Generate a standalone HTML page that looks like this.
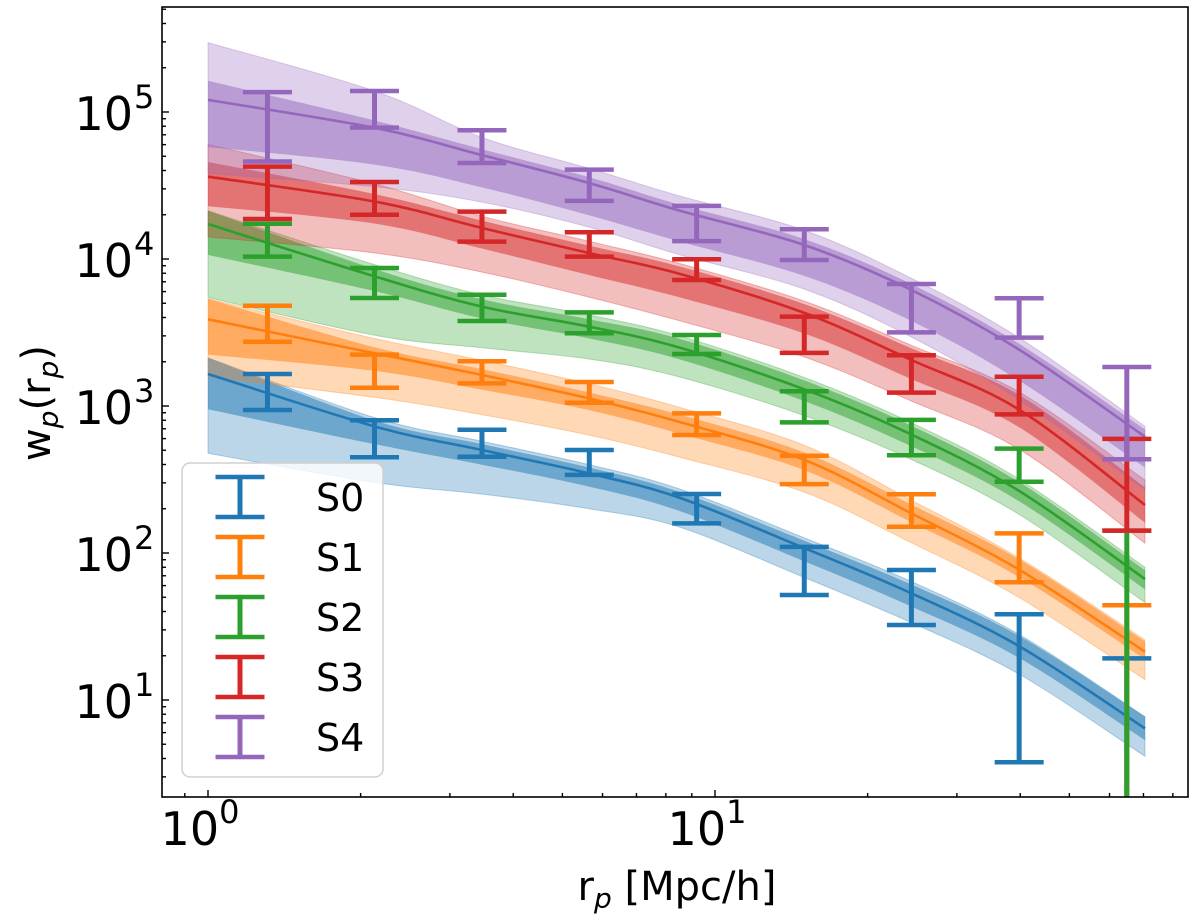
<!DOCTYPE html>
<html><head><meta charset="utf-8"><style>
html,body{margin:0;padding:0;background:#fff;}
svg{display:block;font-family:"DejaVu Sans","Liberation Sans",sans-serif;}
</style></head><body>
<svg id="chart" width="1200" height="920" viewBox="0 0 1200 920" xmlns="http://www.w3.org/2000/svg">
<defs><clipPath id="plotclip"><rect x="162" y="7" width="1026" height="790"/></clipPath></defs>
<g id="bands" clip-path="url(#plotclip)"></g>
<g id="lines" clip-path="url(#plotclip)"></g>
<g id="bars" clip-path="url(#plotclip)"></g>
<rect x="162" y="7" width="1026" height="790" fill="none" stroke="#000" stroke-width="1.6"/>
<g id="ticks"></g>
<g id="legend"></g>
<text x="677" y="900" font-size="40" text-anchor="middle">r<tspan font-size="28" font-style="italic" dy="8">p</tspan><tspan dy="-8"> [Mpc/h]</tspan></text>
<text transform="translate(50,403) rotate(-90)" font-size="40" text-anchor="middle">w<tspan font-size="28" font-style="italic" dy="8">p</tspan><tspan dy="-8">(r</tspan><tspan font-size="28" font-style="italic" dy="8">p</tspan><tspan dy="-8">)</tspan></text>
</svg>
<script>
const seriesNames = ["S0","S1","S2","S3","S4"];
const colors = ["#1f77b4","#ff7f0e","#2ca02c","#d62728","#9467bd"];
const binR = [1.31,2.13,3.47,5.65,9.2,15.0,24.4,39.8,64.9];
const s0Upper = [1652,800,690,502,252,110,76.6,38.3,19.2];
const s0Lower = [940,448,452,340,159,51.8,32.4,3.77,0.01];
const s1Upper = [4808,2234,2014,1455,891,459,251,136,44.1];
const s1Lower = [2735,1330,1426,1052,635,294,151,63.2,0.01];
const s2Upper = [17378,8690,5715,4335,3041,1259,804,513,142];
const s2Lower = [10375,5433,3784,3126,2259,774,462,305,0.01];
const s3Upper = [42462,33420,20989,15205,9954,4055,2213,1581,597];
const s3Lower = [18707,19999,13122,10375,7194,2296,1233,877,142];
const s4Upper = [136458,139000,75162,40551,22961,15922,6761,5408,1841];
const s4Lower = [46026,78343,44978,24831,13243,9840,3170,2917,434];
const modelR = [1,2.14,3.47,5.64,8.5,15,24.4,39.9,70.5];
const s0Model = [1652,723,502,348,238,108,53.2,23.1,6.41];
const s1Model = [3890,2280,1626,1127,780,430,186,76.6,21.3];
const s2Model = [17300,7586,4742,3467,2500,1300,640,263,66.5];
const s3Model = [36310,24550,16260,10990,7943,4300,2056,940,212];
const s4Model = [120800,77800,50930,32890,21380,12450,6152,2404,618];
// band half-widths in dex (upper light, upper dark, lower dark, lower light)
const s0LightUp=[0.11,0.06,0.06,0.06,0.06,0.07,0.08,0.08,0.08];
const s0DarkUp=[0.11,0.04,0.04,0.04,0.04,0.05,0.06,0.07,0.08];
const s0DarkLo=[0.24,0.12,0.1,0.09,0.09,0.09,0.09,0.08,0.08];
const s0LightLo=[0.54,0.38,0.3,0.24,0.2,0.2,0.2,0.19,0.19];
const s1LightUp=[0.14,0.1,0.1,0.1,0.1,0.1,0.09,0.08,0.08];
const s1DarkUp=[0.14,0.04,0.04,0.04,0.05,0.05,0.06,0.07,0.07];
const s1DarkLo=[0.24,0.12,0.1,0.08,0.08,0.07,0.06,0.05,0.05];
const s1LightLo=[0.39,0.3,0.27,0.25,0.24,0.22,0.2,0.19,0.19];
const s2LightUp=[0.09,0.08,0.08,0.08,0.08,0.08,0.08,0.08,0.08];
const s2DarkUp=[0.09,0.05,0.05,0.05,0.06,0.06,0.06,0.06,0.06];
const s2DarkLo=[0.21,0.1,0.08,0.08,0.08,0.08,0.08,0.07,0.07];
const s2LightLo=[0.5,0.4,0.28,0.22,0.2,0.18,0.17,0.16,0.16];
const s3LightUp=[0.22,0.12,0.08,0.08,0.07,0.08,0.1,0.12,0.17];
const s3DarkUp=[0.1,0.05,0.05,0.05,0.05,0.06,0.08,0.1,0.12];
const s3DarkLo=[0.2,0.15,0.14,0.15,0.16,0.14,0.13,0.12,0.12];
const s3LightLo=[0.41,0.35,0.3,0.3,0.32,0.3,0.28,0.27,0.26];
const s4LightUp=[0.39,0.25,0.12,0.1,0.1,0.1,0.08,0.08,0.07];
const s4DarkUp=[0.13,0.05,0.04,0.04,0.04,0.04,0.04,0.04,0.05];
const s4DarkLo=[0.32,0.25,0.22,0.22,0.21,0.21,0.21,0.21,0.21];
const s4LightLo=[0.5,0.4,0.32,0.3,0.3,0.3,0.32,0.34,0.36];
const xTickLabels = ["0","1"];
const yTickLabels = ["1","2","3","4","5"];

const uppers=[s0Upper,s1Upper,s2Upper,s3Upper,s4Upper];
const lowers=[s0Lower,s1Lower,s2Lower,s3Lower,s4Lower];
const models=[s0Model,s1Model,s2Model,s3Model,s4Model];
const lightUps=[s0LightUp,s1LightUp,s2LightUp,s3LightUp,s4LightUp];
const darkUps=[s0DarkUp,s1DarkUp,s2DarkUp,s3DarkUp,s4DarkUp];
const darkLos=[s0DarkLo,s1DarkLo,s2DarkLo,s3DarkLo,s4DarkLo];
const lightLos=[s0LightLo,s1LightLo,s2LightLo,s3LightLo,s4LightLo];

const NS="http://www.w3.org/2000/svg";
function X(r){return 208+507*Math.log10(r);}
function YL(l){return 700-147*(l-1);}
function Y(v){return YL(Math.log10(Math.max(v,1e-3)));}
function mk(tag,attrs,parent){const e=document.createElementNS(NS,tag);for(const k in attrs)e.setAttribute(k,attrs[k]);parent.appendChild(e);return e;}
// Catmull-Rom smooth path through points (continuing an existing path)
function smooth(p,start){
  let d=(start?'M':'L')+p[0][0].toFixed(1)+','+p[0][1].toFixed(1);
  for(let i=0;i<p.length-1;i++){
    const p0=p[Math.max(i-1,0)],p1=p[i],p2=p[i+1],p3=p[Math.min(i+2,p.length-1)];
    const c1x=p1[0]+(p2[0]-p0[0])/6,c1y=p1[1]+(p2[1]-p0[1])/6;
    const c2x=p2[0]-(p3[0]-p1[0])/6,c2y=p2[1]-(p3[1]-p1[1])/6;
    d+='C'+c1x.toFixed(1)+','+c1y.toFixed(1)+' '+c2x.toFixed(1)+','+c2y.toFixed(1)+' '+p2[0].toFixed(1)+','+p2[1].toFixed(1);
  }
  return d;
}
const gB=document.getElementById('bands'),gL=document.getElementById('lines'),gE=document.getElementById('bars');
function bandPath(mod,up,lo){
  const top=modelR.map((r,i)=>[X(r),YL(Math.log10(mod[i])+up[i])]);
  const bot=modelR.map((r,i)=>[X(r),YL(Math.log10(mod[i])-lo[i])]).reverse();
  return smooth(top,true)+smooth(bot,false)+'Z';
}
for(let s=0;s<5;s++){
  const light=mk('path',{d:bandPath(models[s],lightUps[s],lightLos[s]),fill:colors[s],'fill-opacity':0.3,stroke:colors[s],'stroke-opacity':0.3,'stroke-width':1},gB);
  
  
  const dark=mk('path',{d:bandPath(models[s],darkUps[s],darkLos[s]),fill:colors[s],'fill-opacity':0.5},gB);
  
  
  const pts=modelR.map((r,i)=>[X(r),Y(models[s][i])]);
  const ln=mk('path',{d:smooth(pts,true),fill:'none',stroke:colors[s],'stroke-width':2.6},gL);
  
  
}
for(let s=0;s<5;s++){
  for(let i=0;i<binR.length;i++){
    const x=X(binR[i]),yt=Y(uppers[s][i]),yb=Math.min(Y(lowers[s][i]),900);
    const g=mk('g',{},gE);
    
    
    mk('line',{x1:x,x2:x,y1:yt,y2:yb,stroke:colors[s],'stroke-width':5},g);
    mk('line',{x1:x-24.5,x2:x+24.5,y1:yt,y2:yt,stroke:colors[s],'stroke-width':4.5},g);
    mk('line',{x1:x-24.5,x2:x+24.5,y1:yb,y2:yb,stroke:colors[s],'stroke-width':4.5},g);
  }
}
// ticks
const gT=document.getElementById('ticks');
for(let d=-1;d<=1;d++){for(let m=1;m<10;m++){
  const x=X(m*Math.pow(10,d)); if(x<162||x>1188)continue;
  const len=m===1?7:4;
  const t=mk('line',{x1:x,x2:x,y1:797,y2:797-len,stroke:'#000','stroke-width':1.4},gT);
  
  
}}
xTickLabels.forEach(e=>{
  const x=X(Math.pow(10,+e));
  const t=mk('text',{x:x-8,y:845,'font-size':46,'text-anchor':'middle'},gT);
  
  
  t.textContent='10';
  const sp=mk('tspan',{'font-size':32,dy:-22},t);sp.textContent=e;
});
for(let d=0;d<=5;d++){for(let m=1;m<10;m++){
  const y=Y(m*Math.pow(10,d)); if(y<7||y>797)continue;
  const len=m===1?7:4;
  const t=mk('line',{x1:162,x2:162+len,y1:y,y2:y,stroke:'#000','stroke-width':1.4},gT);
  
  
}}
yTickLabels.forEach(e=>{
  const y=Y(Math.pow(10,+e));
  const t=mk('text',{x:133,y:y+18,'font-size':46,'text-anchor':'end'},gT);
  
  
  t.textContent='10';
  const sp=mk('text',{x:134,y:y-4,'font-size':32},gT);
  
  
  sp.textContent=e;
});
// legend
const gLeg=document.getElementById('legend');
const box=mk('rect',{x:182,y:463,width:201,height:314,rx:8,fill:'#fff','fill-opacity':0.8,stroke:'#d0d0d0','stroke-width':1.5},gLeg);


seriesNames.forEach((n,i)=>{
  const cy=497+60*i;
  const g=mk('g',{},gLeg);
  
  
  mk('line',{x1:240,x2:240,y1:cy-20,y2:cy+20,stroke:colors[i],'stroke-width':5},g);
  mk('line',{x1:215.5,x2:264.5,y1:cy-20,y2:cy-20,stroke:colors[i],'stroke-width':4.5},g);
  mk('line',{x1:215.5,x2:264.5,y1:cy+20,y2:cy+20,stroke:colors[i],'stroke-width':4.5},g);
  const t=mk('text',{x:316,y:cy+14,'font-size':38},g);t.textContent=n;
});
</script>
</body></html>
